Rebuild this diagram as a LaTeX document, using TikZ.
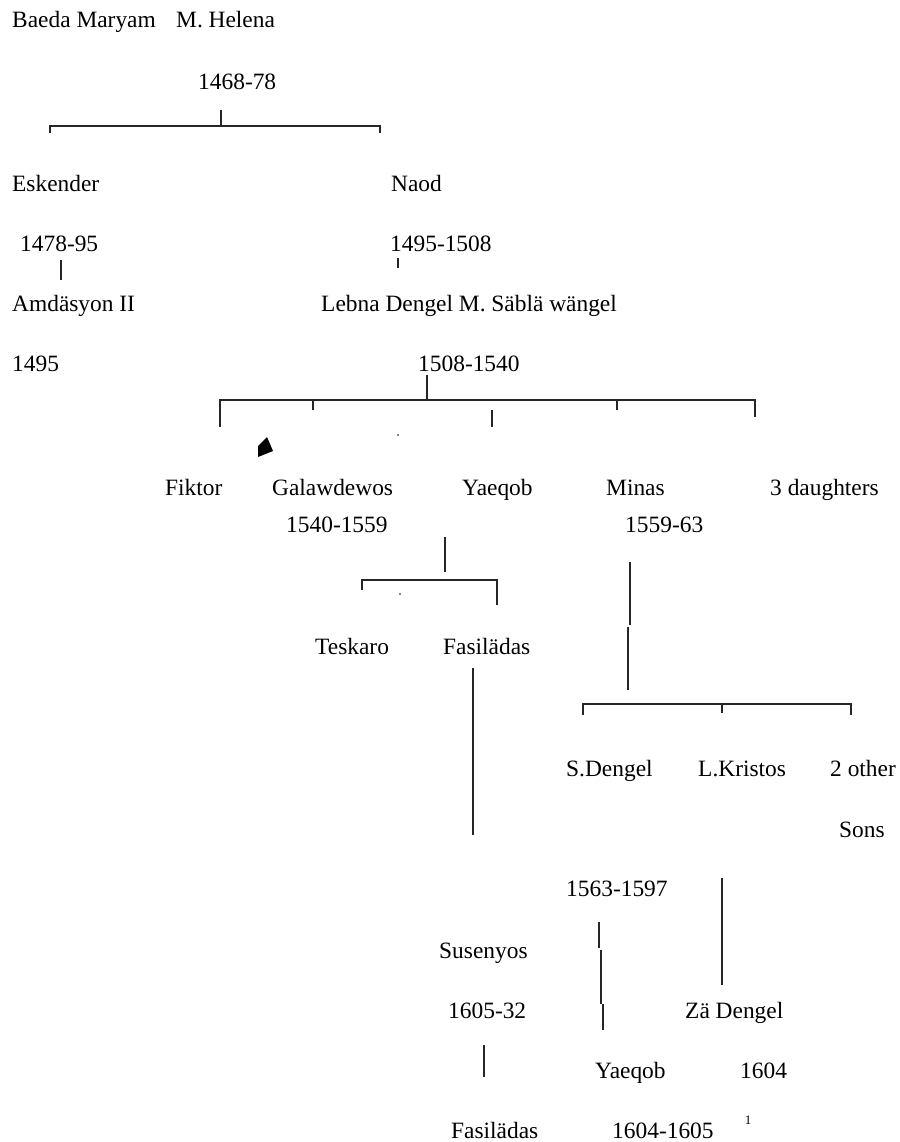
\documentclass[tikz,border=0pt]{standalone}
\usepackage{fontspec}
\setmainfont{Liberation Serif}
\tikzset{
  person/.style={anchor=base west,inner sep=0pt,font=\fontsize{23.4}{28}\selectfont},
  line/.style={line width=1.4pt,black!85}
}
\begin{document}
\begin{tikzpicture}[x=1pt,y=-1pt]
  \useasboundingbox (0,0) rectangle (899,1142);
  % generation 1
  \node[person] (bm) at (12,28) {Baeda Maryam};
  \node[person] (mh) at (176,28) {M. Helena};
  \node[person] (d1) at (198,90) {1468-78};
  % generation 2
  \node[person] (esk) at (12,191) {Eskender};
  \node[person] (naod) at (391,191) {Naod};
  \node[person] (d2) at (20,251) {1478-95};
  \node[person] (d3) at (390,251) {1495-1508};
  \node[person] (amd) at (12,311) {Amdäsyon II};
  \node[person] (lebna) at (321,311) {Lebna Dengel M. Säblä wängel};
  \node[person] (d4) at (12,371) {1495};
  \node[person] (d5) at (418,371) {1508-1540};
  % children of Lebna Dengel
  \node[person] (fik) at (165,495) {Fiktor};
  \node[person] (gal) at (272,495) {Galawdewos};
  \node[person] (yaq) at (462,495) {Yaeqob};
  \node[person] (min) at (606,495) {Minas};
  \node[person] (dau) at (770,495) {3 daughters};
  \node[person] (d6) at (286,532) {1540-1559};
  \node[person] (d7) at (625,532) {1559-63};
  \node[person] (tes) at (315,654) {Teskaro};
  \node[person] (fas) at (443,654) {Fasilädas};
  \node[person] (sd) at (566,776) {S.Dengel};
  \node[person] (lk) at (698,776) {L.Kristos};
  \node[person] (oth) at (830,776) {2 other};
  \node[person] (sons) at (839,837) {Sons};
  \node[person] (d8) at (566,896) {1563-1597};
  \node[person] (sus) at (439,958) {Susenyos};
  \node[person] (d9) at (448,1018) {1605-32};
  \node[person] (zd) at (685,1018) {Zä Dengel};
  \node[person] (yaq2) at (595,1078) {Yaeqob};
  \node[person] (d10) at (740,1078) {1604};
  \node[person] (fas2) at (451,1138) {Fasilädas};
  \node[person] (d11) at (612,1138) {1604-1605};
  \node[inner sep=0pt,font=\fontsize{13}{15}\selectfont] (fn) at (748,1120) {1};

  % brackets
  \coordinate (a0) at (221,110); \coordinate (a1) at (221,126);
  \coordinate (al) at (50,133);  \coordinate (ar) at (380,133);
  \draw[line] (a0) -- (a1) (al) -- (50,126) -- (380,126) -- (ar);
  \coordinate (e0) at (61,260); \coordinate (e1) at (61,280);
  \draw[line] (e0) -- (e1);
  \coordinate (n0) at (398,258); \coordinate (n1) at (398,268);
  \draw[line] (n0) -- (n1);

  \coordinate (b0) at (427,375); \coordinate (b1) at (427,400);
  \draw[line] (b0) -- (b1);
  \draw[line] (220,427) -- (220,400) -- (755,400) -- (755,417);
  \draw[line] (313,400) -- (313,410) (617,400) -- (617,410);
  \draw[line] (492,410) -- (492,427);
  \fill (398,435) circle (0.8);
  \fill (258,446) -- (267,437) -- (273,451) -- (258,457) -- cycle;

  \draw[line] (445,537) -- (445,572);
  \draw[line] (362,590) -- (362,580) -- (497,580) -- (497,605);
  \fill (400,594) circle (0.8);

  \draw[line] (630,562) -- (630,625) (628,627) -- (628,690);
  \draw[line] (473,668) -- (473,835);
  \draw[line] (583,715) -- (583,704) -- (851,704) -- (851,715);
  \draw[line] (722,704) -- (722,713);

  \draw[line] (722,878) -- (722,985);
  \draw[line] (599,922) -- (599,948) (601,950) -- (601,1004) (603,1004) -- (603,1030);
  \draw[line] (484,1045) -- (484,1077);
\end{tikzpicture}
\end{document}
